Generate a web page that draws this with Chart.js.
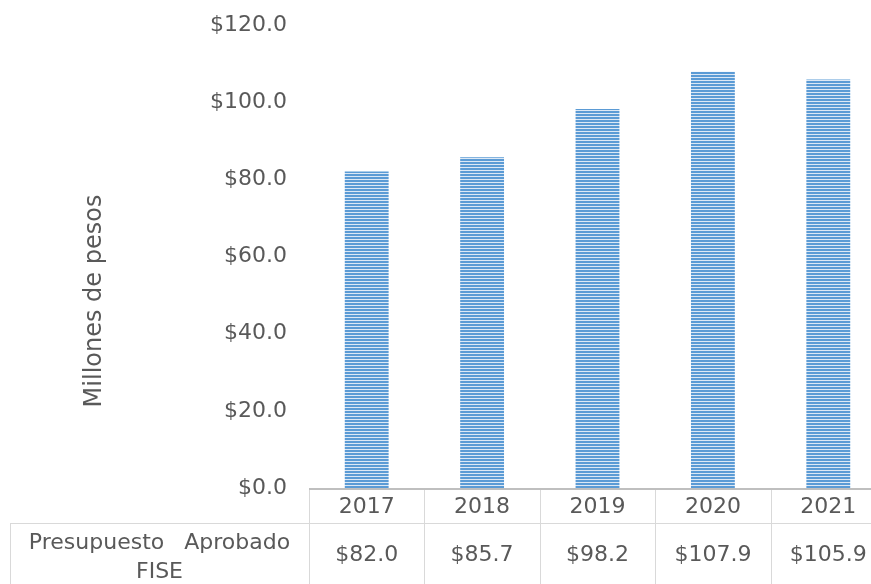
<!DOCTYPE html>
<html>
<head>
<meta charset="utf-8">
<script src="https://cdn.jsdelivr.net/npm/chart.js@4.4.1/dist/chart.umd.min.js"></script>
<style>
  body { margin: 0; overflow: hidden; background: #fff; }
  #wrap { width: 890px; height: 584px; }
</style>
</head>
<body>
<div id="wrap"><canvas id="fiseChart" width="890" height="584"></canvas></div>
<script>
// Datos
const years = ['2017', '2018', '2019', '2020', '2021'];
const fiseValues = [82.0, 85.7, 98.2, 107.9, 105.9];
const seriesLabel = ['Presupuesto', 'Aprobado', 'FISE'];
const axisTitle = 'Millones de pesos';

const TEXT_COLOR = '#595959';
const LINE_COLOR = '#d9d9d9';
const FONT = '"DejaVu Sans", sans-serif';

// striped fill like the original
function makeStripes() {
    const c = document.createElement('canvas');
    c.width = 4;
    c.height = 3;
    const g = c.getContext('2d');
    g.fillStyle = '#5b9bd5';
    g.fillRect(0, 0, 4, 2);
    g.fillStyle = '#dce8f5';
    g.fillRect(0, 2, 4, 1);
    return g.createPattern(c, 'repeat');
}

const fmt = v => '$' + v.toFixed(1);

// draws the data table under the plot + the axis title
const tablePlugin = {
    id: 'dataTable',
    afterDraw(chart) {
        const ctx = chart.ctx;
        const area = chart.chartArea;
        const xs = chart.scales.x;
        const colW = (area.right - area.left) / years.length;
        const row1 = area.bottom + 35;
        const bottom = chart.height;

        ctx.save();
        // axis line
        ctx.strokeStyle = '#bfbfbf';
        ctx.lineWidth = 2;
        ctx.beginPath();
        ctx.moveTo(area.left, area.bottom + 1);
        ctx.lineTo(area.right, area.bottom + 1);
        ctx.stroke();

        ctx.strokeStyle = LINE_COLOR;
        ctx.lineWidth = 1;
        ctx.beginPath();
        ctx.moveTo(10, row1 + 0.5);
        ctx.lineTo(area.right, row1 + 0.5);
        for (let i = 0; i <= years.length; i++) {
            const x = Math.round(area.left + i * colW) + 0.5;
            ctx.moveTo(x, area.bottom + 2);
            ctx.lineTo(x, bottom);
        }
        ctx.moveTo(10.5, row1);
        ctx.lineTo(10.5, bottom);
        ctx.stroke();

        ctx.fillStyle = TEXT_COLOR;
        ctx.font = '22px ' + FONT;
        ctx.textAlign = 'center';
        ctx.textBaseline = 'middle';
        years.forEach((y, i) => {
            const x = xs.getPixelForValue(i);
            ctx.fillText(y, x, area.bottom + 19);
            ctx.fillText(fmt(fiseValues[i]), x, row1 + 32);
        });

        // row header, first line spread a little
        const cx = (10 + area.left) / 2;
        const w1 = ctx.measureText(seriesLabel[0]).width;
        const w2 = ctx.measureText(seriesLabel[1]).width;
        const gap = 20;
        const start = cx - (w1 + gap + w2) / 2;
        ctx.textAlign = 'left';
        ctx.fillText(seriesLabel[0], start, row1 + 20);
        ctx.fillText(seriesLabel[1], start + w1 + gap, row1 + 20);
        ctx.textAlign = 'center';
        ctx.fillText(seriesLabel[2], cx, row1 + 49);

        // y axis title
        ctx.translate(95, 301);
        ctx.rotate(-Math.PI / 2);
        ctx.font = '24px ' + FONT;
        ctx.fillText(axisTitle, 0, 0);
        ctx.restore();
    }
};

const ctx = document.getElementById('fiseChart').getContext('2d');
new Chart(ctx, {
    type: 'bar',
    data: {
        labels: years,
        datasets: [{
            label: seriesLabel.join(' '),
            data: fiseValues,
            backgroundColor: makeStripes(),
            categoryPercentage: 1,
            barPercentage: 0.38
        }]
    },
    options: {
        responsive: false,
        animation: false,
        layout: { padding: { top: 25, bottom: 96, right: 4, left: 0 } },
        plugins: {
            legend: { display: false },
            tooltip: { enabled: false }
        },
        scales: {
            x: {
                display: false
            },
            y: {
                min: 0,
                max: 120,
                afterFit(scale) {
                    scale.width = 309;
                    scale.paddingTop = 0;
                    scale.paddingBottom = 0;
                },
                grid: { display: false, drawTicks: false },
                border: { display: false },
                ticks: {
                    stepSize: 20,
                    padding: 22,
                    color: TEXT_COLOR,
                    font: { size: 22, family: FONT },
                    callback: v => fmt(v)
                }
            }
        }
    },
    plugins: [tablePlugin]
});
</script>
</body>
</html>
